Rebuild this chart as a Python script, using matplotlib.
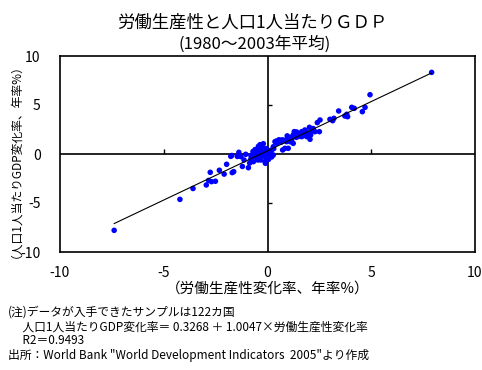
import matplotlib
matplotlib.use("Agg")
import matplotlib.pyplot as plt
import numpy as np

plt.rcParams['font.family'] = ['Noto Sans CJK JP', 'DejaVu Sans']

title_lines = ["労働生産性と人口1人当たりＧＤＰ", "(1980～2003年平均)"]
xlabel = "（労働生産性変化率、年率%）"
ylabel = "（人口1人当たりGDP変化率、年率%）"
notes = [
    "(注)データが入手できたサンプルは122カ国",
    "　 人口1人当たりGDP変化率＝ 0.3268 ＋ 1.0047×労働生産性変化率",
    "　 R2＝0.9493",
    "出所：World Bank \"World Development Indicators  2005\"より作成",
]
xticks = [-10, -5, 0, 5, 10]
yticks = [-10, -5, 0, 5, 10]
intercept = 0.3268
slope = 1.0047

# labour productivity growth (x) and per-capita GDP growth (y), % per year
prod = [-7.39, -4.22, -3.59, -2.95, -2.84, -2.70, -2.51, -2.76, -2.32, -2.09,
        -1.97, -1.70, -1.63, -1.77, -1.72, -1.38, -1.21, -1.28, -1.13, -1.05,
        -0.92, -0.86, -0.80, -0.67, -0.60, -0.60, -0.68, -0.47, -0.44, -0.36,
        -0.30, -0.28, -0.20, -0.22, -0.36, -0.12, -0.07, -0.04, -0.10, 0.04,
        -0.33, -0.15, -0.50, -0.40, -0.25, -0.55, 0.12, 0.20, 0.28, 0.28,
        -0.10, 0.05, 0.36, 0.44, 0.52, 0.60, 0.68, 0.76, 0.73, 0.84,
        1.00, 0.92, 1.00, 1.17, 1.24, 1.29, 1.24, 1.40, 1.48, 1.57,
        1.65, 1.65, 1.75, 1.86, 1.89, 2.02, 2.05, 2.08, 2.29, 2.50,
        2.40, 2.53, 3.01, 3.14, 3.20, 3.43, 3.73, 3.86, 3.82, 4.06,
        4.18, 4.57, 4.70, 4.94, 7.91, 0.45, 0.55, 0.85, 1.10, 1.35,
        1.55, 1.80, 2.15, 0.15, 0.20, -0.30, -0.18, 0.10, -0.45, -0.70,
        0.30, 1.95, 1.10, 0.65, -0.80, -1.45, -0.20, 2.20, 0.95, -0.05,
        1.40, 0.05]
gdp = [-7.79, -4.63, -3.52, -3.16, -2.70, -2.82, -2.78, -1.87, -1.66, -2.05,
       -1.05, -1.90, -1.80, -0.24, -0.15, 0.17, -1.27, -0.27, -0.61, -0.03,
       -1.40, -0.92, -0.50, -0.20, 0.45, 0.05, -0.78, -0.61, 0.78, 0.95,
       0.65, 0.58, 0.30, 0.10, -0.20, -0.78, -0.44, -0.27, -0.05, 0.07,
       -0.61, 0.45, 0.30, 0.55, 0.85, -0.35, 0.07, 0.41, -0.10, 0.74,
       -0.95, -0.55, 1.26, 1.33, 1.26, 1.36, 1.43, 1.43, 0.41, 0.58,
       0.58, 1.26, 1.60, 1.50, 1.94, 2.28, 1.09, 1.70, 1.94, 2.08,
       2.28, 1.77, 1.95, 2.28, 1.77, 2.72, 1.50, 1.94, 2.28, 2.28,
       3.20, 3.47, 3.54, 3.40, 3.64, 4.39, 3.88, 3.81, 4.05, 4.76,
       4.66, 4.32, 4.76, 6.05, 8.33, 1.10, 1.45, 1.35, 1.70, 2.05,
       1.80, 2.45, 2.35, 0.25, -0.30, 0.20, -0.20, -0.15, 0.05, 0.25,
       0.55, 2.10, 1.25, 1.20, -0.15, -0.25, 1.05, 2.60, 1.85, 0.55,
       2.25, 0.35]

W, H = 482, 370
fig = plt.figure(figsize=(W / 100, H / 100), dpi=100)
ax = fig.add_axes([60 / W, 1 - 252 / H, 415 / W, 196 / H])
ax.set_xlim(-10, 10)
ax.set_ylim(-10, 10)

ax.scatter(prod, gdp, s=16, marker='o', color='#0000FF', edgecolors='none', zorder=3)
xs = np.array([min(prod), max(prod)])
ax.plot(xs, intercept + slope * xs, color='black', lw=0.8, zorder=4)

# inner axes through origin
ax.axhline(0, color='black', lw=1.2, zorder=2)
ax.axvline(0, color='black', lw=1.2, zorder=2)
inner_x = [t for t in xticks if t not in (-10, 0, 10)]
inner_y = [t for t in yticks if t not in (-10, 0, 10)]
ax.vlines(inner_x, 0, 0.5, color='black', lw=1.0, zorder=2)
ax.hlines(inner_y, 0, 0.22, color='black', lw=1.0, zorder=2)

for sp in ax.spines.values():
    sp.set_linewidth(1.2)
ax.set_xticks(xticks)
ax.set_yticks(yticks)
ax.set_xticklabels([str(t) for t in xticks])
ax.set_yticklabels([str(t) for t in yticks])
ax.tick_params(axis='x', length=0, pad=10, labelsize=10)
ax.tick_params(axis='y', length=0, pad=14, labelsize=10)

ax.set_xlabel(xlabel, fontsize=10.5, labelpad=1)
fig.text(10 / W, 1 - 155 / H, ylabel, rotation=90, ha='center', va='center', fontsize=8.5)

fig.text(252 / W, 1 - 23 / H, title_lines[0], ha='center', va='center', fontsize=12.5)
fig.text(255 / W, 1 - 44 / H, title_lines[1], ha='center', va='center', fontsize=12)

note_y = [312, 327, 341, 356]
for txt, yy in zip(notes, note_y):
    fig.text(8 / W, 1 - yy / H, txt, ha='left', va='center', fontsize=8.5)

fig.savefig("out.png", dpi=100)
